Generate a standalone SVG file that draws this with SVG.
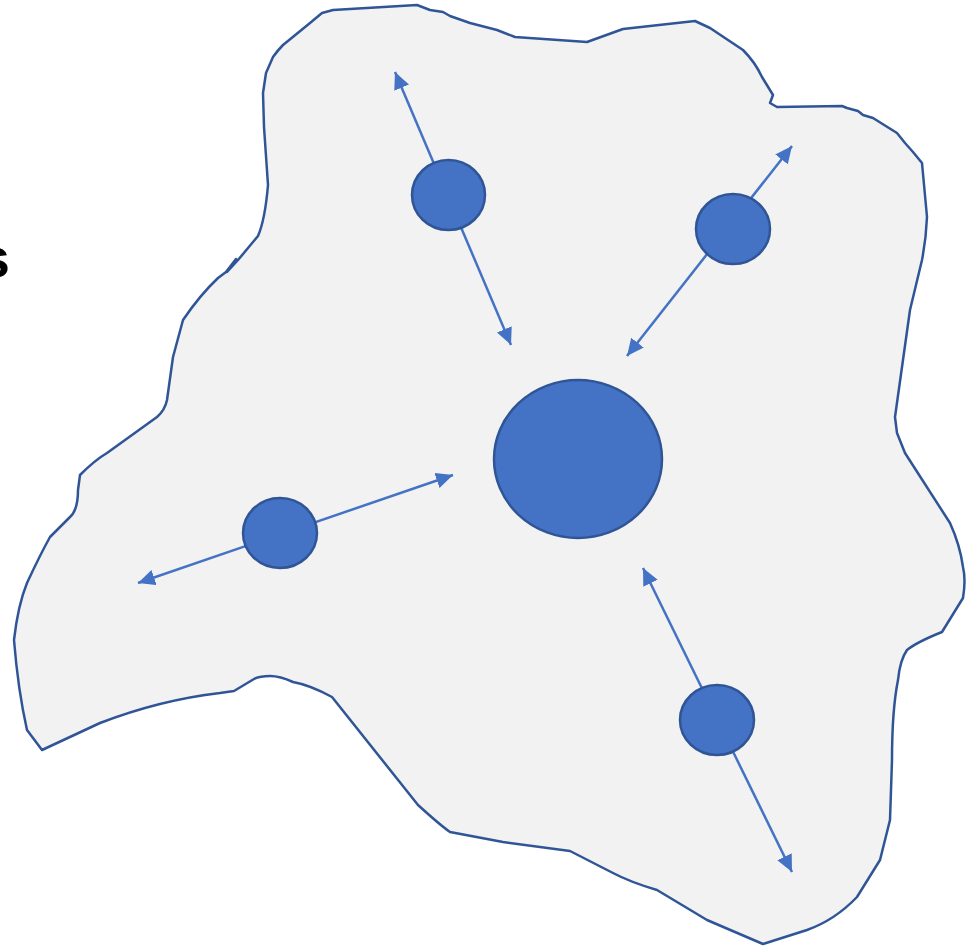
<svg xmlns="http://www.w3.org/2000/svg" width="975" height="946" viewBox="0 0 975 946">
<style>
.blob{fill:#F2F2F2;stroke:#2F5597;stroke-width:2.5;stroke-linejoin:round}
.node{fill:#4472C4;stroke:#2F5597;stroke-width:2.5}
.conn{stroke:#4472C4;stroke-width:2.5;fill:none;marker-start:url(#ah);marker-end:url(#ah)}
.lbl{font-family:"Liberation Sans",Arial,sans-serif;font-weight:bold;font-size:56px;fill:#000}
</style>
<defs>
<marker id="ah" markerUnits="userSpaceOnUse" markerWidth="20" markerHeight="18" refX="17" refY="8" orient="auto-start-reverse" viewBox="0 0 20 18">
<path d="M0,0 L17,8 L0,16 z" fill="#4472C4"/>
</marker>
</defs>
<rect width="975" height="946" fill="#FFFFFF"/>
<g id="region">
<path class="blob" d="M333,10 L417,5 L430,10 L443,12 L450,16 L470,23 L497,30 L515,37 L587,42 L623,29 L695,21 L710,28 L743,50 Q755,62 762,77 L773,95 L770,103 L777,107 L842,106 L847,108 L858,111 L863,115 L873,118 L897,133 L905,143 L913,152 L922,163 L927,217 Q926,240 922,260 L910,310 L895,417 L897,433 L905,453 L950,523 Q960,545 963,567 Q966,580 963,598 L942,632 Q917,642 907,650 Q900,660 898,680 Q892,710 892,760 L890,820 L880,860 L857,897 Q835,920 807,930 L763,944 L707,920 L657,890 Q630,882 613,873 L570,851 L503,842 L450,832 Q440,825 418,805 L332,697 Q310,685 293,682 Q280,676 270,676 Q260,676 254,679 L234,691 L220,693 Q160,700 100,723 L42,750 L27,730 Q18,690 14,640 Q18,605 27,583 Q40,555 50,537 L70,517 Q78,510 78,490 L80,475 Q95,460 107,453 L157,417 Q165,410 167,400 L173,357 L183,320 Q200,295 218,278 L226,272 L236,259 L227,272 L238,260 L258,236 Q265,220 268,185 L264,127 L263,93 L266,73 L273,57 Q278,50 283,45 L310,23 L322,13 Z"/>
</g>
<g id="connectors">
<line class="conn" x1="395" y1="72" x2="511" y2="345"/>
<line class="conn" x1="792" y1="146" x2="627" y2="356"/>
<line class="conn" x1="453" y1="475" x2="138" y2="583"/>
<line class="conn" x1="643" y1="568" x2="792" y2="872"/>
</g>
<g id="node-center"><ellipse class="node" cx="578" cy="459" rx="84" ry="79"/></g>
<g id="node-top"><ellipse class="node" cx="448.5" cy="195" rx="36.5" ry="35"/></g>
<g id="node-upper-right"><ellipse class="node" cx="733" cy="229" rx="37" ry="35"/></g>
<g id="node-left"><ellipse class="node" cx="280" cy="533" rx="37" ry="35"/></g>
<g id="node-lower-right"><ellipse class="node" cx="717" cy="720" rx="37" ry="35"/></g>
<text class="lbl" x="10" y="277" text-anchor="end">s</text>
</svg>
